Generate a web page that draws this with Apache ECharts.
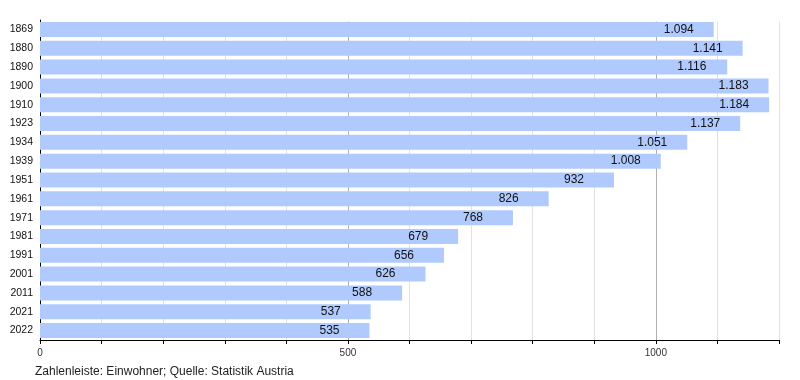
<!DOCTYPE html>
<html><head><meta charset="utf-8">
<script src="https://cdn.jsdelivr.net/npm/echarts@6/dist/echarts.min.js"></script>
<style>html,body{margin:0;padding:0;background:#fff}#c{width:800px;height:380px}</style>
</head><body><div id="c"></div>
<script>
const years = ['1869','1880','1890','1900','1910','1923','1934','1939','1951','1961','1971','1981','1991','2001','2011','2021','2022'];
const population = [1094,1141,1116,1183,1184,1137,1051,1008,932,826,768,679,656,626,588,537,535];
const footnote = 'Zahlenleiste: Einwohner; Quelle: Statistik Austria';

const fmt = v => { const s = String(v); return s.length > 3 ? s.slice(0, s.length-3) + '.' + s.slice(-3) : s; };
const chart = echarts.init(document.getElementById('c'), null, {renderer:'canvas'});
const FONT = '"Liberation Sans", Arial, sans-serif';
chart.setOption({
  animation:false,
  grid:{left:40,right:21,top:20,bottom:40,containLabel:false,show:false},
  graphic:[
    {type:'text',left:35,top:366,style:{text:footnote,font:'12px '+FONT,fill:'#222'}},
    {type:'rect',shape:{x:41,y:14,width:745,height:7.5},style:{fill:'#fff',stroke:null},z:1000,zlevel:0}
  ],
  xAxis:{
    type:'value',min:0,max:1200,interval:100,position:'bottom',
    axisLine:{show:true,onZero:false,lineStyle:{color:'#000',width:1}},
    axisTick:{show:true,length:4,lineStyle:{color:'#000'}},
    axisLabel:{margin:8,fontSize:10,fontFamily:FONT,color:'#333',formatter:v=>(v%500===0&&v<1200)?String(v):''},
    splitLine:{show:true,lineStyle:{color:['#b0b0b0','#e2e2e2','#e2e2e2','#e2e2e2','#e2e2e2'],width:1}}
  },
  yAxis:{
    type:'category',data:years,inverse:true,
    axisLine:{show:true,lineStyle:{color:'#000',width:1}},
    axisTick:{show:false},
    axisLabel:{fontSize:10.5,fontFamily:FONT,color:'#111',margin:7},
    splitLine:{show:false},
    splitArea:{show:false}
  },
  series:[{
    type:'bar',data:population,barWidth:15,
    itemStyle:{color:'#b0cafd'},
    label:{show:true,position:['100%','50%'],offset:[-50,0],align:'left',verticalAlign:'middle',
      fontSize:12,fontFamily:FONT,color:'#111',formatter:p=>fmt(p.value)}
  }]
});
</script></body></html>
